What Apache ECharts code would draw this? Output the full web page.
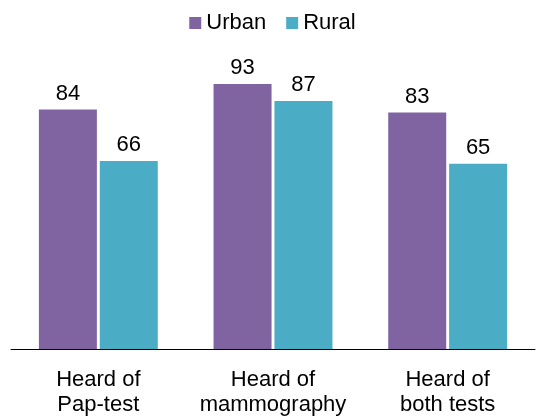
<!DOCTYPE html>
<html>
<head>
<meta charset="utf-8">
<script src="https://cdn.jsdelivr.net/npm/echarts@6/dist/echarts.min.js"></script>
<style>
html, body { margin: 0; padding: 0; background: #fff; }
#chart { width: 545px; height: 417px; }
</style>
</head>
<body>
<div id="chart"></div>
<script>
// Awareness of screening tests, urban vs rural (%)
const categories = ['Heard of\nPap-test', 'Heard of\nmammography', 'Heard of\nboth tests'];
const urban = [84, 93, 83];
const rural = [66, 87, 65];
const seriesNames = ['Urban', 'Rural'];

const font = 'Liberation Sans, Arial, sans-serif';
const chart = echarts.init(document.getElementById('chart'));
chart.setOption({
  animation: false,
  legend: {
    top: 7,
    left: 'center',
    itemWidth: 12,
    itemHeight: 12,
    itemGap: 20,
    icon: 'rect',
    textStyle: { fontFamily: font, fontSize: 22, color: '#000' },
    data: seriesNames
  },
  grid: { left: 11, right: 10, top: 64, bottom: 67, containLabel: false },
  xAxis: {
    type: 'category',
    data: categories,
    axisLine: { lineStyle: { color: '#000', width: 1 } },
    axisTick: { show: false },
    axisLabel: {
      fontFamily: font, fontSize: 22, color: '#000',
      lineHeight: 25, margin: 18, interval: 0
    }
  },
  yAxis: {
    type: 'value', min: 0, max: 100,
    show: false,
    splitLine: { show: false }
  },
  series: [
    {
      name: seriesNames[0], type: 'bar', data: urban,
      barWidth: 58, barGap: '5%',
      itemStyle: { color: '#8064A2' },
      label: { show: true, position: 'top', distance: 5, fontFamily: font, fontSize: 22, color: '#000' }
    },
    {
      name: seriesNames[1], type: 'bar', data: rural,
      barWidth: 58,
      itemStyle: { color: '#4BACC6' },
      label: { show: true, position: 'top', distance: 5, fontFamily: font, fontSize: 22, color: '#000' }
    }
  ]
});
</script>
</body>
</html>
